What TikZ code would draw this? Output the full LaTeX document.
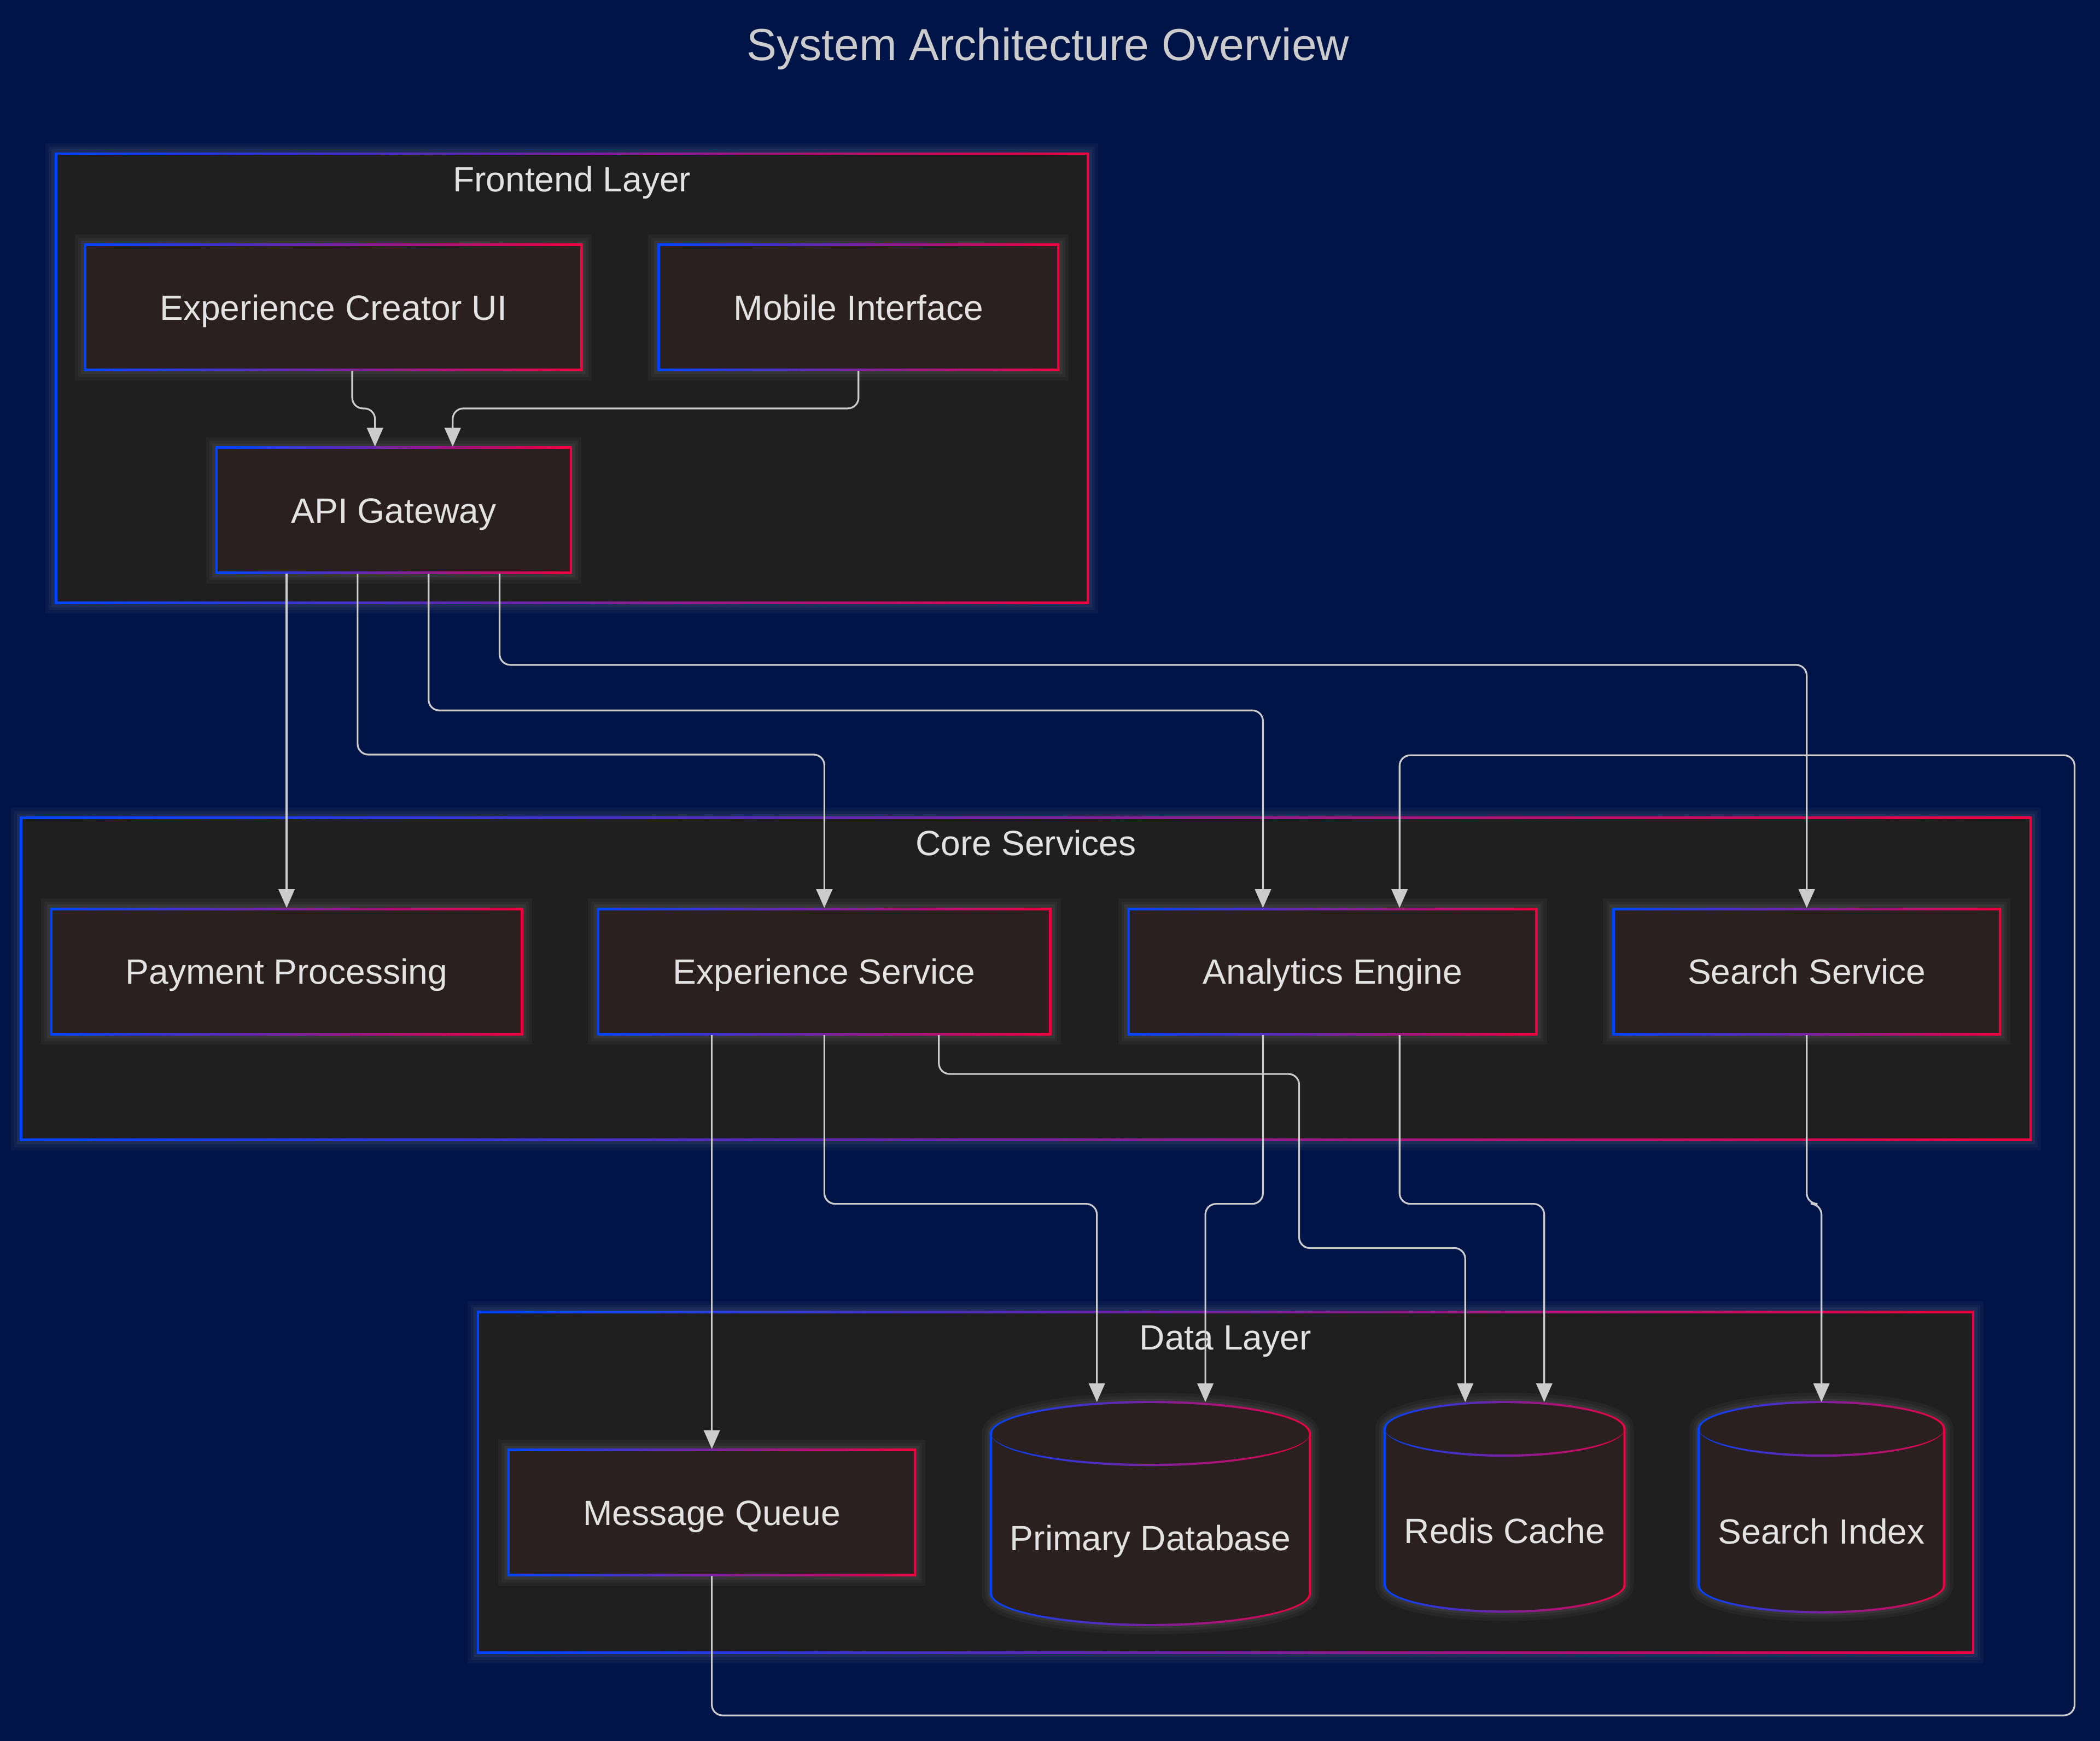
\documentclass[tikz,border=0pt]{standalone}
\usepackage{fontspec}
\setmainfont{Liberation Sans}
\usetikzlibrary{positioning, arrows.meta}
\definecolor{bgcolor}{RGB}{0, 20, 72}
\definecolor{clustercolor}{RGB}{31, 31, 31}
\definecolor{nodecolor}{RGB}{43, 32, 32}
\definecolor{gradleft}{RGB}{0, 68, 255}
\definecolor{gradright}{RGB}{240, 0, 64}
\definecolor{edgecolor}{RGB}{204, 204, 204}
\definecolor{labelcolor}{RGB}{226, 226, 226}
\definecolor{titlecolor}{RGB}{204, 204, 204}
\definecolor{glowcolor}{RGB}{170, 170, 170}

\pgfdeclarelayer{page}
\pgfdeclarelayer{clusters}
\pgfdeclarelayer{glow}
\pgfsetlayers{page,clusters,glow,main}

\newcommand{\nodefont}{\fontsize{26.2pt}{31pt}\selectfont}
\newcommand{\titlefont}{\fontsize{33.6pt}{40pt}\selectfont}

% cylinder body for a data store: node name, x radius, y radius
\newcommand{\dbbody}[3]{%
  \begin{pgfonlayer}{glow}
    \path[glow, transform canvas={shift={(1.5pt,-4pt)}}]
      ([yshift=-#3]#1.north west) arc[start angle=180, end angle=0, x radius=#2, y radius=#3]
      -- ([yshift=#3]#1.south east) arc[start angle=0, end angle=-180, x radius=#2, y radius=#3] -- cycle;
  \end{pgfonlayer}
  \shade[left color=gradleft, right color=gradright]
    ([xshift=-0.85pt, yshift=-#3]#1.north west) arc[start angle=180, end angle=0, x radius=#2+0.85pt, y radius=#3+0.85pt]
    -- ([xshift=0.85pt, yshift=#3]#1.south east) arc[start angle=0, end angle=-180, x radius=#2+0.85pt, y radius=#3+0.85pt] -- cycle;
  \fill[nodecolor]
    ([xshift=0.85pt, yshift=-#3]#1.north west) arc[start angle=180, end angle=0, x radius=#2-0.85pt, y radius=#3-0.85pt]
    -- ([xshift=-0.85pt, yshift=#3]#1.south east) arc[start angle=0, end angle=-180, x radius=#2-0.85pt, y radius=#3-0.85pt] -- cycle;
  \shade[left color=gradleft, right color=gradright]
    ([yshift=-#3]#1.north west) arc[start angle=180, end angle=360, x radius=#2, y radius=#3+0.85pt]
    arc[start angle=360, end angle=180, x radius=#2, y radius=#3-0.85pt] -- cycle;
}

\begin{document}
\begin{tikzpicture}[
    x=1pt, y=-1pt,
    gradborder/.style={rectangle, left color=gradleft, right color=gradright, outer sep=0pt, inner sep=0pt},
    box/.style={gradborder, minimum height=95pt, text=labelcolor, font=\nodefont, text height=18.8pt, text depth=0pt,
        path picture={\fill[nodecolor] ([shift={(1.7pt,1.7pt)}]path picture bounding box.south west)
            rectangle ([shift={(-1.7pt,-1.7pt)}]path picture bounding box.north east);}},
    cluster/.style={gradborder,
        path picture={\fill[clustercolor] ([shift={(1.7pt,1.7pt)}]path picture bounding box.south west)
            rectangle ([shift={(-1.7pt,-1.7pt)}]path picture bounding box.north east);}},
    clabel/.style={text=labelcolor, font=\nodefont, text height=18.8pt, text depth=0pt, inner sep=0pt},
    dbnode/.style={rectangle, outer sep=0pt, inner sep=0pt},
    title/.style={text=titlecolor, font=\titlefont, text height=24pt, text depth=0pt, inner sep=0pt},
    flow/.style={draw=edgecolor, line width=1.3pt, rounded corners=8pt, -{Triangle[length=14pt, width=12pt]}},
    glow/.style={line join=round,
        preaction={draw=glowcolor, draw opacity=0.05, line width=14pt},
        preaction={draw=glowcolor, draw opacity=0.06, line width=9pt},
        preaction={draw=glowcolor, draw opacity=0.08, line width=5pt}},
]

% --- Row y-positions ---
\def\frontrow{229.5}
\def\apirow{381}
\def\corerow{725.5}
\def\datarow{1129.5}

\useasboundingbox (0,0) rectangle (1568,1300);
\begin{pgfonlayer}{page}
  \fill[bgcolor] (0,0) rectangle (1568,1300);
\end{pgfonlayer}

\node[title] (title) at (782.5,33) {System Architecture Overview};

% ======= CLUSTERS =======
\begin{pgfonlayer}{clusters}
  \node[cluster, minimum width=772pt, minimum height=337pt] (front) at (427,282.5) {};
  \node[clabel, below=10pt of front.north] (front-label) {Frontend Layer};
  \node[cluster, minimum width=1502pt, minimum height=242pt] (core) at (766,731) {};
  \node[clabel, below=10pt of core.north] (core-label) {Core Services};
  \node[cluster, minimum width=1118pt, minimum height=256pt] (data) at (915,1107) {};
  \node[clabel, below=10pt of data.north] (data-label) {Data Layer};
\end{pgfonlayer}

\begin{pgfonlayer}{page}
  \foreach \c in {front, core, data} {
    \path[glow, transform canvas={shift={(1.5pt,-4pt)}}] (\c.south west) rectangle (\c.north east);
  }
\end{pgfonlayer}

% ======= FRONTEND LAYER =======
\node[box, minimum width=372pt] (ecui) at (249,\frontrow) {Experience Creator UI};
\node[box, minimum width=300pt] (mobile) at (641,\frontrow) {Mobile Interface};
\node[box, minimum width=266pt] (api) at (294,\apirow) {API Gateway};

% ======= CORE SERVICES =======
\node[box, minimum width=353pt] (pay) at (214,\corerow) {Payment Processing};
\node[box, minimum width=339pt] (exp) at (615.5,\corerow) {Experience Service};
\node[box, minimum width=306pt] (ana) at (995,\corerow) {Analytics Engine};
\node[box, minimum width=290pt] (srch) at (1349,\corerow) {Search Service};

% ======= DATA LAYER =======
\node[box, minimum width=305pt] (mq) at (531.5,\datarow) {Message Queue};

\node[dbnode, minimum width=238pt, minimum height=166.5pt] (pdb) at (859,1130.25) {};
\dbbody{pdb}{119pt}{23.5pt}
\node[clabel] (pdb-text) at ([yshift=-18pt]pdb.center) {Primary Database};

\node[dbnode, minimum width=179pt, minimum height=156.5pt] (redis) at (1123.5,1125.25) {};
\dbbody{redis}{89.5pt}{20pt}
\node[clabel] (redis-text) at ([yshift=-18pt]redis.center) {Redis Cache};

\node[dbnode, minimum width=183pt, minimum height=157pt] (sidx) at (1360,1125.5) {};
\dbbody{sidx}{91.5pt}{20pt}
\node[clabel] (sidx-text) at ([yshift=-18pt]sidx.center) {Search Index};

\begin{pgfonlayer}{glow}
  \foreach \n in {ecui, mobile, api, pay, exp, ana, srch, mq} {
    \path[glow, transform canvas={shift={(1.5pt,-4pt)}}] (\n.south west) rectangle (\n.north east);
  }
\end{pgfonlayer}

% ======= CONNECTIONS =======
\draw[flow] ([xshift=14pt]ecui.south) -- ++(0,28) -| ([xshift=-14pt]api.north);
\draw[flow] (mobile.south) -- ++(0,28) -| ([xshift=44pt]api.north);

\draw[flow] ([xshift=-80pt]api.south) -- (pay.north);
\draw[flow] ([xshift=-27pt]api.south) -- ++(0,135) -| (exp.north);
\draw[flow] ([xshift=26pt]api.south) -- ++(0,102) -| ([xshift=-52pt]ana.north);
\draw[flow] ([xshift=79pt]api.south) -- ++(0,68) -| (srch.north);

\draw[flow] ([xshift=-84pt]exp.south) -- (mq.north);
\draw[flow] (exp.south) -- ++(0,126) -| ([xshift=-40pt]pdb.north);
\draw[flow] ([xshift=85.5pt]exp.south) -- ++(0,29) -| (970,932) -| ([xshift=-29.5pt]redis.north);

\draw[flow] ([xshift=-52pt]ana.south) -- ++(0,126) -| ([xshift=41pt]pdb.north);
\draw[flow] ([xshift=50pt]ana.south) -- ++(0,126) -| ([xshift=29.5pt]redis.north);
\draw[flow] (srch.south) -- ++(0,126) -| (sidx.north);

\coordinate (mq-loop) at (1549,564);
\draw[flow] (mq.south) -- ++(0,104) -| (mq-loop) -| ([xshift=50pt]ana.north);

\end{tikzpicture}
\end{document}
